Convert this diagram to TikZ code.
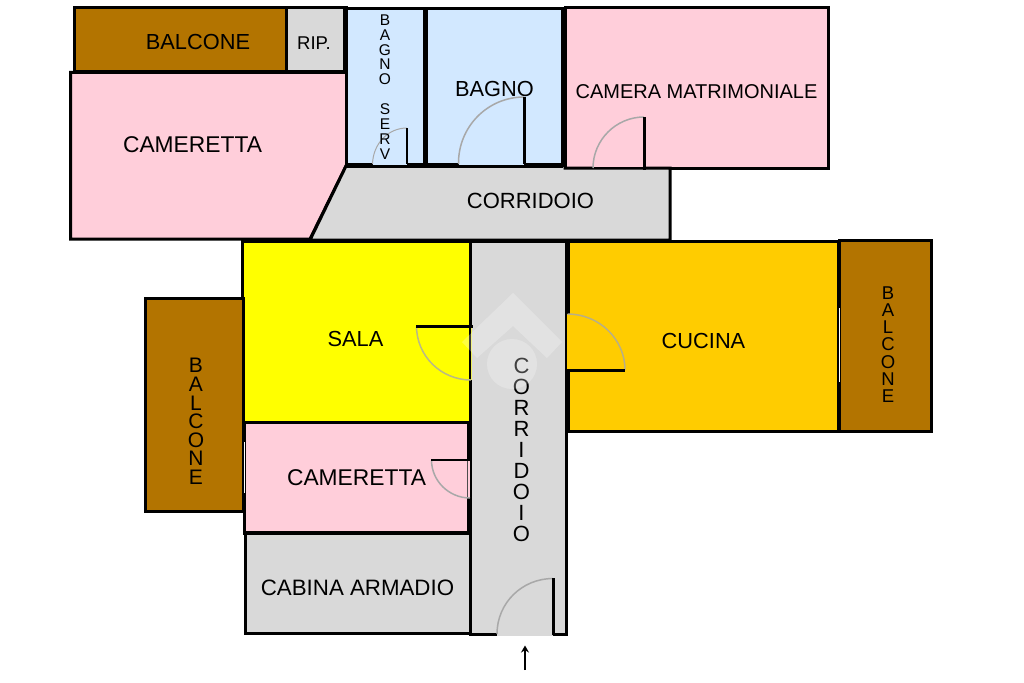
\documentclass[tikz,border=0pt]{standalone}
\usepackage{fontspec}
\setmainfont{Liberation Sans}
\usetikzlibrary{arrows.meta}
\definecolor{pinkroom}{HTML}{FFCEDA}
\definecolor{brownroom}{HTML}{B37400}
\definecolor{blueroom}{HTML}{D2E8FF}
\definecolor{grayroom}{HTML}{D9D9D9}
\definecolor{orangeroom}{HTML}{FFCC00}
\definecolor{yellowroom}{HTML}{FFFF00}
\definecolor{arcgray}{HTML}{A8A8A8}
\tikzset{
  room/.style={draw=black,line width=3pt,miter limit=10,fill=#1},
  thickwall/.style={draw=black,line width=5pt},
  leaf/.style={draw=black,line width=3pt},
  swing/.style={draw=arcgray,line width=1.5pt},
  label/.style={inner sep=0pt,text=black,font=\fontsize{21.8}{24}\selectfont},
  vlabel/.style={inner sep=0pt,text=black,align=center},
}
\begin{document}
\begin{tikzpicture}[x=1pt,y=-1pt]
\useasboundingbox[fill=white] (0,0) rectangle (1024,682);
% rooms
\path[room=brownroom] (74.5,7.5) rectangle (286,72);
\path[room=grayroom] (286,7.5) rectangle (346,72);
\path[room=pinkroom] (70.5,72.5) -- (346.5,72.5) -- (346.5,165) -- (310,239) -- (70.5,239) -- cycle;
\path[room=blueroom] (346.5,8.5) rectangle (425,164.5);
\path[room=blueroom] (425,8.5) rectangle (563,164.5);
\path[room=pinkroom] (565,7.5) rectangle (828.5,168);
\path[room=grayroom] (346.5,165) -- (565,165) -- (565,168) -- (670,168) -- (670,240) -- (310,240) -- cycle;
\path[room=yellowroom] (242.5,241) rectangle (470,422.5);
\path[room=grayroom] (470,241) rectangle (566,634);
\path[room=orangeroom] (568,241) rectangle (838.5,431);
\path[room=brownroom] (839,240) rectangle (931.5,431);
\path[room=brownroom] (145,298) rectangle (243,511);
\path[room=pinkroom] (244.5,422.5) rectangle (469.5,533);
\path[room=grayroom] (245.5,533) rectangle (470,633);
% heavier walls
\draw[thickwall] (345.5,7.5) -- (345.5,72);
\draw[thickwall] (425,8) -- (425,165);
\draw[thickwall] (563,8) -- (563,167);
\draw[thickwall] (346,165) -- (563,165);
\draw[thickwall] (567,241) -- (567,431);
\draw[thickwall] (469.5,423) -- (469.5,533);
\draw[draw=black,line width=4.5pt] (245,533) -- (471,533);
% openings
\fill[blueroom] (373,162) rectangle (407,164.6);
\fill[blueroom] (458.5,162) rectangle (524,164.6);
\fill[pinkroom] (593,165.5) rectangle (644,166.8);
\draw[grayroom!40!yellowroom,line width=1pt] (471.2,326) -- (471.2,380);
\fill[orangeroom] (567.3,314) rectangle (569.5,370);
\fill[pinkroom] (467,460) rectangle (470,498);
\draw[black!70,line width=.7pt] (467.8,460) -- (467.8,498);
\fill[grayroom] (497,632) rectangle (553,636);
\draw[white,line width=1pt] (839,308) -- (839,382);
\draw[white,line width=1pt] (244.5,442) -- (244.5,493);
% door leaves and swings
\draw[swing,line width=1pt] (407,128) .. controls (387.7,128) and (373,144.1) .. (372.5,164);
\draw[leaf,line width=2pt] (407,128) -- (407,164);
\draw[swing] (524,97) .. controls (487.5,97) and (458,127) .. (458.5,164);
\draw[leaf] (524,97) -- (524,164);
\draw[swing] (644,117) .. controls (616,117) and (593,140) .. (593,168);
\draw[leaf] (644,117) -- (644,170);
\draw[swing,arcgray!80!yellowroom] (416.5,326) .. controls (416.5,356) and (441,380) .. (471,380);
\draw[leaf] (416,326) -- (473,326);
\draw[swing,arcgray!80!orangeroom] (567.5,314) .. controls (599,314) and (625,339) .. (625,370);
\draw[leaf] (566,370) -- (625,370);
\draw[swing] (431.5,460) .. controls (431.5,481) and (449,498) .. (470,498);
\draw[leaf,line width=1.8pt] (431,460) -- (471,460);
\draw[swing] (553,578.5) .. controls (522,578.5) and (497,603) .. (497,634);
\draw[leaf] (553,578) -- (553,635);
% arrow
\coordinate (arrowtail) at (525,670);
\coordinate (arrowhead) at (525,645.5);
\draw[line width=1.5pt,-{Stealth[length=7pt,width=8pt]}] (arrowtail) -- (arrowhead);
% labels
\node[label] (balconetop) at (198,42) {BALCONE};
\node[label,font=\fontsize{18.5}{20}\selectfont] (rip) at (314,43.5) {RIP.};
\node[label,font=\fontsize{22.8}{24}\selectfont] (cameretta1) at (192.5,145) {CAMERETTA};
\node[label] (bagno) at (494.5,89) {BAGNO};
\node[label,font=\fontsize{20}{24}\selectfont] (matrimoniale) at (696.5,91.5) {CAMERA MATRIMONIALE};
\node[label,font=\fontsize{22}{24}\selectfont] (corridoio1) at (530.5,201) {CORRIDOIO};
\node[label] (sala) at (355.5,339) {SALA};
\node[label] (cucina) at (703.5,341) {CUCINA};
\node[label,font=\fontsize{22.8}{24}\selectfont] (cameretta2) at (356.5,478) {CAMERETTA};
\node[label,font=\fontsize{22.3}{24}\selectfont] (cabina) at (357.5,588) {CABINA ARMADIO};
\node[vlabel,font=\fontsize{15.5}{14.9}\selectfont] (bagnoserv) at (385,87) {B\\A\\G\\N\\O\\[14.9pt]S\\E\\R\\V};
\node[vlabel,font=\fontsize{21}{18.6}\selectfont] (balconeleft) at (196,421.5) {B\\A\\L\\C\\O\\N\\E};
\node[vlabel,font=\fontsize{18.5}{17.2}\selectfont] (balconeright) at (888,344.5) {B\\A\\L\\C\\O\\N\\E};
\node[vlabel,font=\fontsize{22}{21}\selectfont] (corridoio2) at (521.5,450) {C\\O\\R\\R\\I\\D\\O\\I\\O};
% watermark
\fill[white,opacity=.25] (513,293) -- (562,342) -- (547,358) -- (513,326) -- (477,358) -- (462,342) -- cycle;
\fill[white,opacity=.25] (512,364) circle (25);
\end{tikzpicture}
\end{document}
